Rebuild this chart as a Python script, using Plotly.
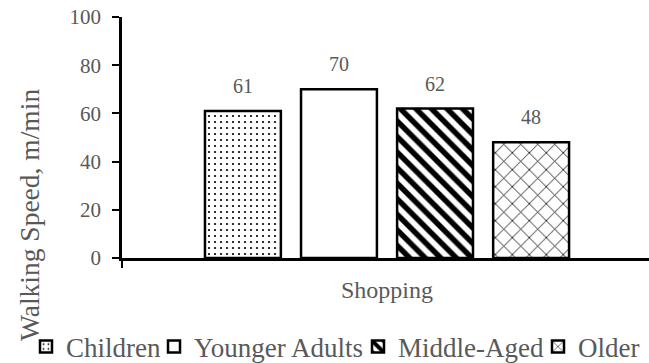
import plotly.graph_objects as go

categories = ["Shopping"]
groups = ["Children", "Younger Adults", "Middle-Aged", "Older"]
speeds = [[61], [70], [62], [48]]

patterns = [
    dict(shape=".", size=6, solidity=0.11, fgcolor="black", bgcolor="white", fgopacity=1),
    dict(shape="", fgcolor="black", bgcolor="white"),
    dict(shape="\\", size=11, solidity=0.5, fgcolor="black", bgcolor="white", fgopacity=1),
    dict(shape="x", size=12, solidity=0.13, fgcolor="black", bgcolor="white", fgopacity=1),
]

FONT = "Liberation Serif"
GREY = "#595959"
W, H = 649, 363
M_L, M_R, M_T, M_B = 122, 0, 17, 105
BARGAP, GROUPGAP = 0.275, 0.21

# one legend per series so each entry can sit at its own spot on the bottom row
legend_names = ["legend", "legend2", "legend3", "legend4"]
legend_left_px = [26, 154, 358, 538]

fig = go.Figure()
for name, vals, pat, lg in zip(groups, speeds, patterns, legend_names):
    fig.add_trace(go.Bar(
        x=categories, y=vals, name=name, legend=lg,
        marker=dict(color="white", pattern=pat, line=dict(color="black", width=2.5)),
    ))

# value labels above each bar of the group
slot = (1 - BARGAP) / len(groups)
for i, vals in enumerate(speeds):
    for j, v in enumerate(vals):
        fig.add_annotation(
            x=j + (i - (len(groups) - 1) / 2) * slot, y=v, xref="x", yref="y",
            text=str(v), showarrow=False, yanchor="bottom", yshift=12,
            font=dict(family=FONT, size=20, color=GREY),
        )

# y-axis title
fig.add_annotation(
    text="Walking Speed, m/min", textangle=-90, showarrow=False,
    xref="paper", yref="paper",
    x=(29 - M_L) / (W - M_L - M_R), y=(H - M_B - 215) / (H - M_T - M_B),
    xanchor="center", yanchor="middle",
    font=dict(family=FONT, size=27.5, color=GREY),
)

legend_layout = {}
for lg, left in zip(legend_names, legend_left_px):
    legend_layout[lg] = dict(
        orientation="h", xref="container", yref="container",
        x=left / W, y=1 - 347 / H, xanchor="left", yanchor="middle",
        font=dict(family=FONT, size=27, color=GREY),
        itemwidth=30, bgcolor="rgba(0,0,0,0)", borderwidth=0,
    )

fig.update_layout(
    width=W, height=H,
    margin=dict(l=M_L, r=M_R, t=M_T, b=M_B),
    paper_bgcolor="white", plot_bgcolor="white",
    barmode="group", bargap=BARGAP, bargroupgap=GROUPGAP,
    font=dict(family=FONT, size=21, color=GREY),
    showlegend=True,
    **legend_layout,
)
fig.update_xaxes(
    range=[-0.5, 0.4943], showline=True, linecolor="black", linewidth=2.5,
    ticks="outside", tickson="boundaries", ticklen=7, tickwidth=2, tickcolor="black",
    ticklabelstandoff=8, showgrid=False,
    tickfont=dict(family=FONT, size=24, color=GREY),
)
fig.update_yaxes(
    range=[0, 100], dtick=20, showline=True, linecolor="black", linewidth=2.5,
    ticks="outside", ticklen=7, tickwidth=2, tickcolor="black",
    ticklabelstandoff=7, showgrid=False, zeroline=False,
    tickfont=dict(family=FONT, size=21, color=GREY),
)

fig.write_html("out.html")
